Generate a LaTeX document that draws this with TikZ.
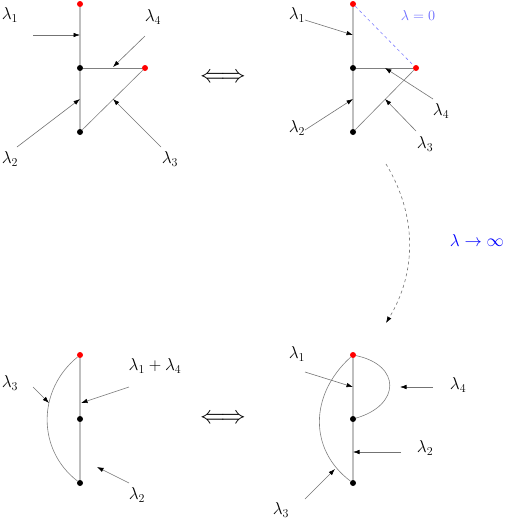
\documentclass[tikz,border=0pt]{standalone}
\usetikzlibrary{arrows.meta}
\begin{document}
\begin{tikzpicture}[x=1pt,y=-1pt,
  lab/.style={font=\fontsize{16.5}{20}\selectfont, inner sep=0pt},
  smalllab/.style={font=\fontsize{14}{17}\selectfont, inner sep=0pt, text=blue!60},
  biglab/.style={font=\fontsize{24}{28}\selectfont, inner sep=0pt},
  rdot/.style={circle, fill=red, inner sep=0pt, minimum size=6pt},
  bdot/.style={circle, fill=black, inner sep=0pt, minimum size=6pt},
  thick gray/.style={draw=black!25, line width=2.4pt},
  thin gray/.style={draw=black!50, line width=0.6pt},
  arr/.style={draw=black!55, line width=0.6pt, -{Latex[length=6.5pt,width=4.5pt,color=black]}}
]
\useasboundingbox (0,0) rectangle (504,520);

% ---------- top left ----------
\node[rdot] (TLa) at (80,4) {};
\node[bdot] (TLb) at (80,68) {};
\node[bdot] (TLc) at (80,132) {};
\node[rdot] (TLd) at (145,68) {};
\draw[thick gray] (TLa) -- (TLb);
\draw[thick gray] (TLb) -- (TLc);
\draw[thin gray] (TLb) -- (TLd);
\draw[thin gray] (TLd) -- (TLc);
\coordinate (tl1s) at (33,35);  \coordinate (tl1e) at (80,35);
\coordinate (tl4s) at (145,36); \coordinate (tl4e) at (113,67);
\coordinate (tl2s) at (17,147); \coordinate (tl2e) at (80,99);
\coordinate (tl3s) at (161,147);\coordinate (tl3e) at (113,99);
\draw[arr] (tl1s) -- (tl1e);
\draw[arr] (tl4s) -- (tl4e);
\draw[arr] (tl2s) -- (tl2e);
\draw[arr] (tl3s) -- (tl3e);
\node[lab] (TLl1) at (10,15) {$\lambda_1$};
\node[lab] (TLl4) at (153,17) {$\lambda_4$};
\node[lab] (TLl2) at (10,159) {$\lambda_2$};
\node[lab] (TLl3) at (170,159) {$\lambda_3$};

\node[biglab] (iff1) at (223,78) {$\Longleftrightarrow$};

% ---------- top right ----------
\node[rdot] (TRa) at (353,4) {};
\node[bdot] (TRb) at (353,68) {};
\node[bdot] (TRc) at (353,132) {};
\node[rdot] (TRd) at (416,68) {};
\draw[thick gray] (TRa) -- (TRb);
\draw[thick gray] (TRb) -- (TRc);
\draw[thin gray] (TRb) -- (TRd);
\draw[thin gray] (TRd) -- (TRc);
\draw[draw=blue!50, line width=0.6pt, dashed] (TRa) -- (TRd);
\coordinate (tr1s) at (305,20);  \coordinate (tr1e) at (353,35);
\coordinate (tr4s) at (433,99);  \coordinate (tr4e) at (385,68);
\coordinate (tr2s) at (305,130); \coordinate (tr2e) at (353,99);
\coordinate (tr3s) at (416,131); \coordinate (tr3e) at (385,99);
\draw[arr] (tr1s) -- (tr1e);
\draw[arr] (tr4s) -- (tr4e);
\draw[arr] (tr2s) -- (tr2e);
\draw[arr] (tr3s) -- (tr3e);
\node[lab] (TRl1) at (297,15) {$\lambda_1$};
\node[smalllab] (TRl0) at (418,15) {$\lambda=0$};
\node[lab] (TRl4) at (441,111) {$\lambda_4$};
\node[lab] (TRl2) at (297,128) {$\lambda_2$};
\node[lab] (TRl3) at (425,144) {$\lambda_3$};

% ---------- limit arrow ----------
\coordinate (ls) at (386,164);
\coordinate (le) at (386,323);
\draw[draw=black!55, line width=0.6pt, dashed, -{Latex[length=6.5pt,width=4.5pt,color=black]}]
  (ls) .. controls (417,215) and (417,272) .. (le);
\node[lab, text=blue] (lim) at (477,240) {$\lambda\to\infty$};

% ---------- bottom left ----------
\node[rdot] (BLa) at (80,355) {};
\node[bdot] (BLb) at (80,419) {};
\node[bdot] (BLc) at (80,483) {};
\draw[thick gray] (BLa) -- (BLb);
\draw[thick gray] (BLb) -- (BLc);
\draw[thin gray] (BLa) .. controls (37,390) and (37,450) .. (BLc);
\coordinate (bl3s) at (33,387);  \coordinate (bl3e) at (49,403);
\coordinate (bl1s) at (129,387); \coordinate (bl1e) at (81,403);
\coordinate (bl2s) at (129,483); \coordinate (bl2e) at (97,467);
\draw[arr] (bl3s) -- (bl3e);
\draw[arr] (bl1s) -- (bl1e);
\draw[arr] (bl2s) -- (bl2e);
\node[lab] (BLl3) at (10,383) {$\lambda_3$};
\node[lab] (BLl14) at (155,366) {$\lambda_1+\lambda_4$};
\node[lab] (BLl2) at (137,495) {$\lambda_2$};

\node[biglab] (iff2) at (223,419) {$\Longleftrightarrow$};

% ---------- bottom right ----------
\node[rdot] (BRa) at (353,355) {};
\node[bdot] (BRb) at (353,419) {};
\node[bdot] (BRc) at (353,483) {};
\draw[thick gray] (BRa) -- (BRb);
\draw[thick gray] (BRb) -- (BRc);
\draw[thin gray] (BRa) .. controls (401,365) and (401,405) .. (BRb);
\draw[thin gray] (BRa) .. controls (309,395) and (309,450) .. (BRc);
\coordinate (br1s) at (305,372); \coordinate (br1e) at (353,387);
\coordinate (br4s) at (433,387); \coordinate (br4e) at (400,387);
\coordinate (br2s) at (401,452); \coordinate (br2e) at (353,452);
\coordinate (br3s) at (305,499); \coordinate (br3e) at (335,469);
\draw[arr] (br1s) -- (br1e);
\draw[arr] (br4s) -- (br4e);
\draw[arr] (br2s) -- (br2e);
\draw[arr] (br3s) -- (br3e);
\node[lab] (BRl1) at (297,354) {$\lambda_1$};
\node[lab] (BRl4) at (458,385) {$\lambda_4$};
\node[lab] (BRl2) at (425,448) {$\lambda_2$};
\node[lab] (BRl3) at (281,510) {$\lambda_3$};
\end{tikzpicture}
\end{document}
